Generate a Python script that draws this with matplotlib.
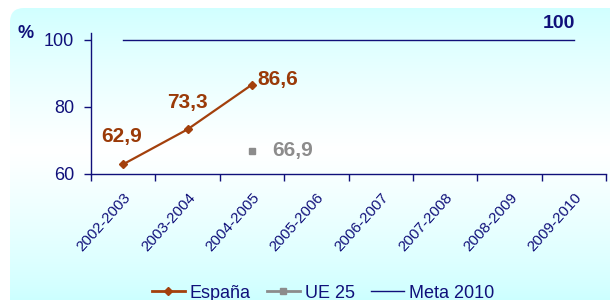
import numpy as np
import matplotlib
matplotlib.use("Agg")
import matplotlib.pyplot as plt
from matplotlib.patches import FancyBboxPatch
from matplotlib.lines import Line2D

plt.rcParams["font.family"] = ["Liberation Sans", "DejaVu Sans"]

# ── data ─────────────────────────────────────────────
courses = ["2002-2003", "2003-2004", "2004-2005", "2005-2006",
           "2006-2007", "2007-2008", "2008-2009", "2009-2010"]
espana = [62.9, 73.3, 86.6]
ue25_idx = [2]
ue25 = [66.9]
meta = [100] * len(courses)

NAVY = "#10107A"
BROWN = "#A3400C"
LABEL_BROWN = "#9A3A08"
GREY = "#8C8C8C"

fig = plt.figure(figsize=(6.1, 3.0), dpi=100)

# ── background: rounded box with cyan/white/cyan gradient ──
bg = fig.add_axes([0, 0, 1, 1], zorder=-10)
bg.set_xlim(0, 610)
bg.set_ylim(300, 0)
bg.axis("off")
yy = np.linspace(0, 1, 300)
c_top = np.array([0.80, 1.0, 1.0])
c_mid = np.array([1.0, 1.0, 1.0])
prof = np.clip(1 - np.abs(yy - 0.5) / 0.5, 0, 1) ** 0.8
cols = c_top[None, :] * (1 - prof[:, None]) + c_mid[None, :] * prof[:, None]
grad = np.repeat(cols[:, None, :], 2, axis=1)
im = bg.imshow(grad, extent=[0, 610, 300, 0], aspect="auto")
box = FancyBboxPatch((10, 8), 620, 320, boxstyle="round,pad=0,rounding_size=14",
                     transform=bg.transData, facecolor="none", edgecolor="none")
bg.add_patch(box)
im.set_clip_path(box)

# ── main chart ───────────────────────────────────────
ax = fig.add_axes([91 / 610, 1 - 174 / 300, 515 / 610, (174 - 33) / 300])
ax.patch.set_visible(False)
x = np.arange(len(courses))

ax.plot(x[:len(espana)], espana, color=BROWN, lw=1.6, marker="D",
        markersize=4, zorder=4)
ax.plot(x[ue25_idx], ue25, color=GREY, lw=1.6, marker="s", markersize=4,
        linestyle="none", zorder=4)
ax.plot(x, meta, color=NAVY, lw=1.0, zorder=3)

lbl = dict(fontsize=15, fontweight="bold", color=LABEL_BROWN)
ax.text(x[0] - 0.02, espana[0] + 8.4, "62,9", ha="center", va="center", **lbl)
ax.text(x[1], espana[1] + 7.9, "73,3", ha="center", va="center", **lbl)
ax.text(x[2] + 0.08, espana[2], "86,6", ha="left", va="baseline", **lbl)
ax.text(x[ue25_idx[0]] + 0.31, ue25[0], "66,9", ha="left", va="center",
        fontsize=15, fontweight="bold", color=GREY)
ax.text(x[-1] - 0.23, meta[-1] + 4.8, "100", ha="center", va="center",
        fontsize=14, fontweight="bold", color=NAVY, clip_on=False)

ax.set_xlim(-0.5, len(courses) - 0.5)
ax.set_ylim(60, 102)
ax.set_yticks([60, 80, 100])
ax.set_xticks(x)
ax.set_xticklabels(courses, rotation=48, ha="right", rotation_mode="anchor",
                   fontsize=11, color=NAVY)
ax.set_xticks(np.arange(-0.5, len(courses)), minor=True)
ax.tick_params(axis="x", which="major", length=0, pad=12)
ax.tick_params(axis="x", which="minor", length=5, color=NAVY, width=1)
ax.tick_params(axis="y", length=5, color=NAVY, width=1, labelsize=13,
               labelcolor=NAVY, pad=7)
for s in ["top", "right"]:
    ax.spines[s].set_visible(False)
for s in ["left", "bottom"]:
    ax.spines[s].set_color(NAVY)
    ax.spines[s].set_linewidth(1)

fig.text(26 / 610, 1 - 33 / 300, "%", fontsize=13, fontweight="bold",
         color=NAVY, ha="center", va="center")

# ── legend ───────────────────────────────────────────
handles = [
    Line2D([], [], color=BROWN, lw=2, marker="D", markersize=4),
    Line2D([], [], color=GREY, lw=2, marker="s", markersize=4),
    Line2D([], [], color=NAVY, lw=1),
]
fig.legend(handles, ["España", "UE 25", "Meta 2010"], loc="center",
           bbox_to_anchor=(0.53, 1 - 293 / 300), ncol=3, frameon=False,
           fontsize=13, labelcolor=NAVY, handlelength=1.8, handletextpad=0.3,
           columnspacing=0.9)

fig.savefig("out.png", dpi=100)
